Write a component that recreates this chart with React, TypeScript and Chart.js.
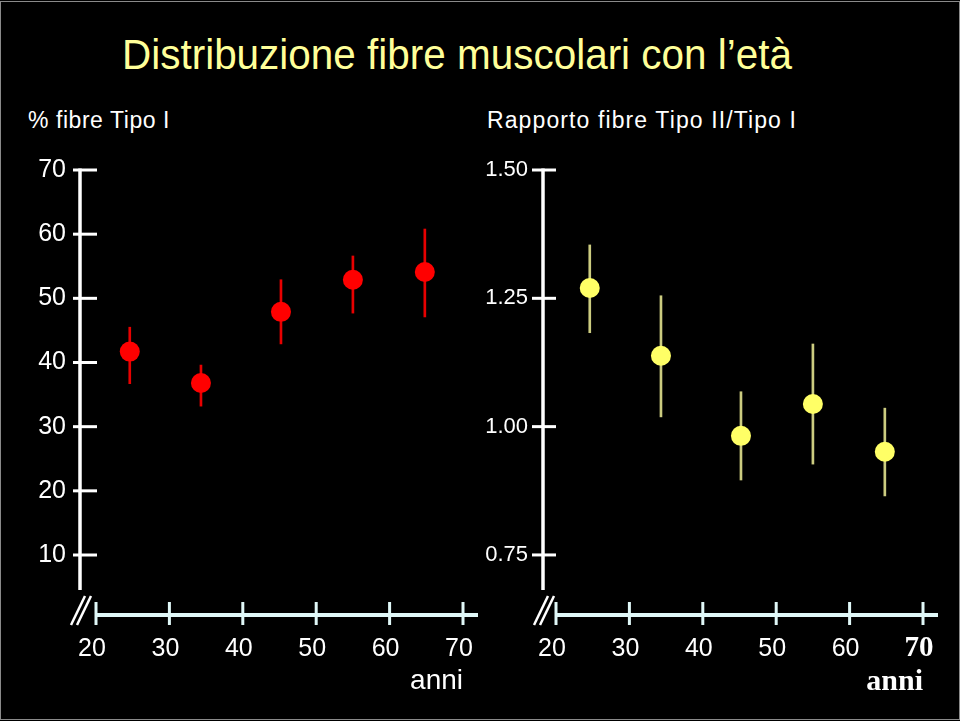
import React, { useEffect, useLayoutEffect, useRef } from "react";
import { Chart, registerables } from "chart.js";

Chart.register(...registerables);

// ---- data ----
const AGES = [24.6, 34.3, 45.2, 55.0, 64.8];
const TYPE1_PCT = [41.7, 36.8, 47.9, 52.9, 54.1];
const TYPE1_LOW = [36.7, 33.2, 42.9, 47.7, 47.1];
const TYPE1_HIGH = [45.5, 39.6, 52.9, 56.6, 60.8];
const RATIO = [1.27, 1.138, 0.982, 1.044, 0.951];
const RATIO_LOW = [1.183, 1.019, 0.896, 0.927, 0.865];
const RATIO_HIGH = [1.354, 1.255, 1.068, 1.161, 1.036];
const X_TICKS = [20, 30, 40, 50, 60, 70];
const Y_TICKS_PCT = [10, 20, 30, 40, 50, 60, 70];
const Y_TICKS_RATIO = [0.75, 1.0, 1.25, 1.5];
const TITLE = "Distribuzione fibre muscolari con l\u2019et\u00e0";
const LEFT_LABEL = "% fibre Tipo I";
const RIGHT_LABEL = "Rapporto fibre Tipo II/Tipo I";
const X_TITLE = "anni";

const SANS = "'Liberation Sans', Arial, Helvetica, sans-serif";
const SERIF = "'Liberation Serif', 'Times New Roman', serif";

type PanelSpec = {
  values: number[];
  low: number[];
  high: number[];
  yTicks: number[];
  yMin: number;
  yMax: number;
  yLabelSize: number;
  yFormat: (v: number) => string;
  pointColor: string;
  barColor: string;
  areaLeft: number;
  padRight: number;
  axisGap: number;
  tickL: number;
  tickR: number;
  yPad: number;
  serifLast: boolean;
};

function axesPlugin(spec: PanelSpec) {
  return {
    id: "customAxes",
    beforeDatasetsDraw(chart: any) {
      const { ctx, chartArea } = chart;
      const xs = chart.scales.x;
      const ys = chart.scales.y;
      const ax = chartArea.left - spec.axisGap;
      const ay = chartArea.bottom;
      const line = (x1: number, y1: number, x2: number, y2: number) => {
        ctx.beginPath();
        ctx.moveTo(x1, y1);
        ctx.lineTo(x2, y2);
        ctx.stroke();
      };
      ctx.save();
      ctx.lineCap = "butt";
      // y axis
      ctx.strokeStyle = "#ffffff";
      ctx.lineWidth = 3.5;
      line(ax, ys.getPixelForValue(spec.yMax) - 1.5, ax, ay - 25);
      ctx.lineWidth = 3;
      ys.ticks.forEach((t: any) => {
        const py = ys.getPixelForValue(t.value);
        line(ax - spec.tickL, py, ax + spec.tickR, py);
      });
      // axis break
      ctx.lineWidth = 2.5;
      line(ax - 9, ay + 10, ax + 5, ay - 19);
      line(ax - 3, ay + 10, ax + 11, ay - 19);
      // x axis
      ctx.strokeStyle = "#e0f8f8";
      ctx.lineWidth = 4;
      line(chartArea.left - 1, ay, chartArea.right + 15, ay);
      ctx.lineWidth = 3;
      xs.ticks.forEach((t: any) => {
        const px = xs.getPixelForValue(t.value);
        line(px, ay - 13, px, ay + 10);
      });
      ctx.restore();
    },
  };
}

function makeChart(canvas: HTMLCanvasElement, spec: PanelSpec) {
  return new Chart(canvas, {
    type: "scatter",
    data: {
      datasets: [
        {
          type: "scatter",
          data: AGES.map((a, i) => ({ x: a, y: spec.values[i] })),
          pointRadius: 10,
          pointHoverRadius: 10,
          pointBackgroundColor: spec.pointColor,
          pointBorderColor: spec.pointColor,
          pointBorderWidth: 0,
          order: 0,
        } as any,
        {
          type: "bar",
          data: AGES.map((a, i) => ({ x: a, y: [spec.low[i], spec.high[i]] })),
          backgroundColor: spec.barColor,
          borderWidth: 0,
          barThickness: 2,
          order: 1,
        } as any,
      ],
    },
    options: {
      animation: false,
      responsive: false,
      events: [],
      layout: { padding: { left: 0, right: spec.padRight, top: 170, bottom: 0 } },
      plugins: { legend: { display: false }, tooltip: { enabled: false }, title: { display: false } },
      scales: {
        x: {
          type: "linear",
          min: 20,
          max: 70,
          offset: false,
          afterBuildTicks: (s: any) => {
            s.ticks = X_TICKS.map((v) => ({ value: v }));
          },
          afterFit: (s: any) => {
            s.height = 106;
            s.paddingLeft = 0;
            s.paddingRight = 0;
          },
          grid: { display: false, drawTicks: false },
          border: { display: false },
          ticks: {
            color: "#ffffff",
            autoSkip: false,
            maxRotation: 0,
            padding: 19,
            labelOffset: -4,
            font: (c: any) =>
              spec.serifLast && c.tick && c.tick.value === 70
                ? { family: SERIF, size: 29, weight: "bold", lineHeight: "30px" }
                : { family: SANS, size: 25, weight: "normal", lineHeight: "30px" },
            callback: (v: any) => String(v),
          },
          title: {
            display: true,
            text: X_TITLE,
            align: "end",
            color: "#ffffff",
            font: spec.serifLast
              ? { family: SERIF, size: 30, weight: "bold" }
              : { family: SANS, size: 28, weight: "normal" },
            padding: { top: 0, bottom: spec.serifLast ? 21 : 23 },
          },
        },
        y: {
          type: "linear",
          min: spec.yMin,
          max: spec.yMax,
          afterBuildTicks: (s: any) => {
            s.ticks = spec.yTicks.map((v) => ({ value: v }));
          },
          afterFit: (s: any) => {
            s.width = spec.areaLeft;
            s.paddingTop = 0;
            s.paddingBottom = 0;
          },
          grid: { display: false, drawTicks: false },
          border: { display: false },
          ticks: {
            color: "#ffffff",
            autoSkip: false,
            padding: spec.yPad,
            font: { family: SANS, size: spec.yLabelSize },
            callback: (v: any) => spec.yFormat(Number(v)),
          },
        },
      },
    } as any,
    plugins: [axesPlugin(spec)],
  });
}

const LEFT_SPEC: PanelSpec = {
  values: TYPE1_PCT,
  low: TYPE1_LOW,
  high: TYPE1_HIGH,
  yTicks: Y_TICKS_PCT,
  yMin: 0.65,
  yMax: 70,
  yLabelSize: 25,
  yFormat: (v) => String(v),
  pointColor: "#ff0000",
  barColor: "#e80000",
  areaLeft: 96,
  padRight: 17,
  axisGap: 16,
  tickL: 7,
  tickR: 17,
  yPad: 30,
  serifLast: false,
};

const RIGHT_SPEC: PanelSpec = {
  values: RATIO,
  low: RATIO_LOW,
  high: RATIO_HIGH,
  yTicks: Y_TICKS_RATIO,
  yMin: 0.633,
  yMax: 1.5,
  yLabelSize: 22,
  yFormat: (v) => v.toFixed(2),
  pointColor: "#ffff66",
  barColor: "#cccc80",
  areaLeft: 76,
  padRight: 37,
  axisGap: 13,
  tickL: 11,
  tickR: 13,
  yPad: 28,
  serifLast: true,
};

export default function App() {
  const leftRef = useRef<HTMLCanvasElement>(null);
  const rightRef = useRef<HTMLCanvasElement>(null);
  const titleRef = useRef<HTMLDivElement>(null);
  const sub1Ref = useRef<HTMLDivElement>(null);
  const sub2Ref = useRef<HTMLDivElement>(null);

  useLayoutEffect(() => {
    const t = titleRef.current;
    if (t) {
      const w = t.getBoundingClientRect().width;
      if (w > 0) t.style.transform = `scaleX(${670 / w})`;
    }
    const fit = (el: HTMLDivElement | null, target: number) => {
      if (!el) return;
      const w = el.getBoundingClientRect().width;
      const n = (el.textContent || "").length;
      if (w > 0 && n > 0) el.style.letterSpacing = `${(target - w) / n}px`;
    };
    fit(sub1Ref.current, 142);
    fit(sub2Ref.current, 310);
  }, []);

  useEffect(() => {
    const a = leftRef.current ? makeChart(leftRef.current, LEFT_SPEC) : null;
    const b = rightRef.current ? makeChart(rightRef.current, RIGHT_SPEC) : null;
    return () => {
      a && a.destroy();
      b && b.destroy();
    };
  }, []);

  return (
    <div
      style={{
        position: "absolute",
        left: 0,
        top: 0,
        width: 960,
        height: 721,
        background: "#000",
        overflow: "hidden",
      }}
    >
      <div
        style={{
          position: "absolute",
          left: 0,
          top: 1,
          width: 958,
          height: 717,
          border: "1px solid #8a8a8a",
          pointerEvents: "none",
        }}
      />
      <div
        ref={titleRef}
        style={{
          position: "absolute",
          left: 122,
          top: 29,
          display: "inline-block",
          whiteSpace: "nowrap",
          fontFamily: "'Liberation Sans Narrow', 'Arial Narrow', 'Liberation Sans', Arial, sans-serif",
          fontSize: 43,
          lineHeight: "50px",
          color: "#ffff99",
          transformOrigin: "0 0",
        }}
      >
        {TITLE}
      </div>
      <div
        ref={sub1Ref}
        style={{
          position: "absolute",
          left: 28,
          top: 106,
          display: "inline-block",
          whiteSpace: "nowrap",
          fontFamily: SANS,
          fontSize: 23,
          lineHeight: "28px",
          color: "#ffffff",
        }}
      >
        {LEFT_LABEL}
      </div>
      <div
        ref={sub2Ref}
        style={{
          position: "absolute",
          left: 487,
          top: 106,
          display: "inline-block",
          whiteSpace: "nowrap",
          fontFamily: SANS,
          fontSize: 23,
          lineHeight: "28px",
          color: "#ffffff",
        }}
      >
        {RIGHT_LABEL}
      </div>
      <canvas
        ref={leftRef}
        width={480}
        height={721}
        style={{ position: "absolute", left: 0, top: 0, width: 480, height: 721 }}
      />
      <canvas
        ref={rightRef}
        width={480}
        height={721}
        style={{ position: "absolute", left: 480, top: 0, width: 480, height: 721 }}
      />
    </div>
  );
}
